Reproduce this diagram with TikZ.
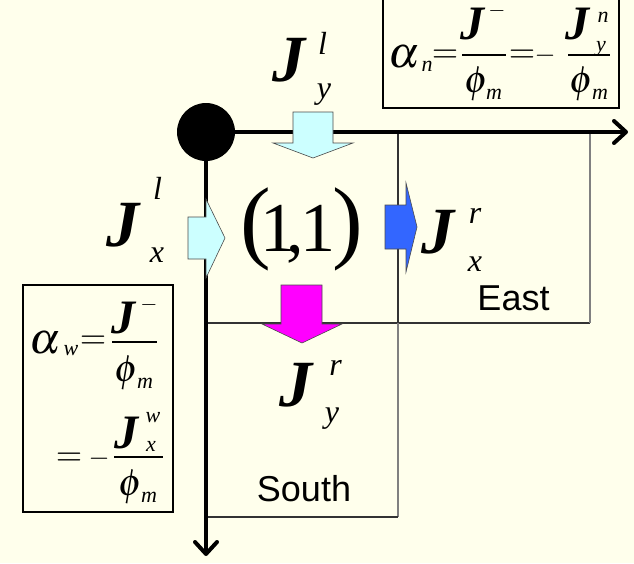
\documentclass[tikz,border=0pt]{standalone}
\usepackage{mathptmx}
\usepackage[no-math]{fontspec}
\setmainfont{Liberation Serif}
\newfontfamily\arialf{Liberation Sans}
\usetikzlibrary{arrows.meta}
\definecolor{bg}{HTML}{FFFFEC}
\definecolor{lcyan}{HTML}{CCFFFF}
\definecolor{fblue}{HTML}{3366FF}
\definecolor{fmag}{HTML}{FF00FF}
\newcommand\fs[1]{\fontsize{#1}{#1}\selectfont}
\tikzset{
  axisline/.style={line width=4pt,-{Straight Barb[length=12pt,width=22pt,line cap=round,line join=round]}},
  gridd/.style={line width=1.3pt,draw=black!80},
  gridg/.style={line width=1.3pt,draw=black!50},
  eqbox/.style={line width=1.3pt,draw=black},
  fracbar/.style={line width=1.2pt,draw=black},
  blockarrow/.style={draw=black!70,line width=0.6pt},
  bigj/.style={inner sep=0pt,font=\fs{66}\bfseries\itshape},
  idx/.style={inner sep=0pt,font=\fs{32}\itshape},
  place/.style={inner sep=0pt,font=\fs{36}\arialf},
  ej/.style={inner sep=0pt,font=\fs{48}\bfseries\itshape},
  egreek/.style={inner sep=0pt,font=\fs{44}},
  ephi/.style={inner sep=0pt,font=\fs{38}},
  erel/.style={inner sep=0pt,font=\fs{34}},
  emin/.style={inner sep=0pt,font=\fs{27}},
  esub/.style={inner sep=0pt,font=\fs{22}\itshape},
}
\begin{document}
\begin{tikzpicture}[x=1pt,y=-1pt]
\fill[bg] (0,0) rectangle (634,563);
\useasboundingbox (0,0) rectangle (634,563);
% cell lines
\draw[gridd] (398,132) -- (398,323);
\draw[gridd] (206,323) -- (590,323);
\draw[gridg] (590,132) -- (590,323);
\draw[gridg] (398,323) -- (398,517);
\draw[gridd] (206,517) -- (398,517);
% axes
\node[circle,fill=black,minimum size=58pt,inner sep=0pt] (o) at (206,132) {};
\coordinate (xe) at (628,132);
\coordinate (ye) at (206,556);
\draw[axisline] (o.east) -- (xe);
\draw[axisline] (o.south) -- (ye);
% block arrows
\draw[blockarrow,fill=lcyan] (293,112) -- (333,112) -- (333,143) -- (353,143) -- (313,158) -- (273,143) -- (293,143) -- cycle;
\draw[blockarrow,fill=lcyan] (188,217) -- (206,217) -- (206,199) -- (225,238) -- (206,278) -- (206,259) -- (188,259) -- cycle;
\draw[blockarrow,fill=fblue] (385,205) -- (406,205) -- (406,183) -- (417,227) -- (406,272) -- (406,249) -- (385,249) -- cycle;
\draw[blockarrow,fill=fmag] (281,285) -- (322,285) -- (322,324) -- (342,324) -- (302,343) -- (262,324) -- (281,324) -- cycle;
% equation boxes
\draw[eqbox] (383,-2) rectangle (619,108);
\draw[eqbox] (23,285) rectangle (173,512);
% alpha_n equation
\node[egreek] (an) at (404,57) {$\alpha$};
\node[esub] (ann) at (427,66) {n};
\node[erel] (aneq1) at (445,56) {$=$};
\draw[fracbar] (462,55) -- (506,55);
\node[ej] (anj1) at (472,24) {J};
\node[esub] (anj1s) at (497,11) {$-$};
\node[ephi] (anphi1) at (476.5,84) {$\phi$};
\node[esub] (anm1) at (494,94) {m};
\node[erel] (aneq2) at (522,56) {$=$};
\node[emin] (anmin) at (545,56) {$-$};
\draw[fracbar] (568,55) -- (610,55);
\node[ej] (anj2) at (577,24) {J};
\node[esub] (anj2s) at (603,17) {n};
\node[esub] (anj2b) at (601,49) {y};
\node[ephi] (anphi2) at (582,84) {$\phi$};
\node[esub] (anm2) at (600,94) {m};
% alpha_w equation
\node[egreek] (aw) at (45,343) {$\alpha$};
\node[esub] (aww) at (71,351) {w};
\node[erel] (aweq1) at (93,342) {$=$};
\draw[fracbar] (112,342) -- (157,342);
\node[ej] (awj1) at (123,318) {J};
\node[esub] (awj1s) at (149,305) {$-$};
\node[ephi] (awphi1) at (127,373) {$\phi$};
\node[esub] (awm1) at (145,383) {m};
\node[erel] (aweq2) at (69,459) {$=$};
\node[emin] (awmin) at (99,459) {$-$};
\draw[fracbar] (114,457) -- (163,457);
\node[ej] (awj2) at (126,433) {J};
\node[esub] (awj2s) at (153,418) {w};
\node[esub] (awj2b) at (151,446) {x};
\node[ephi] (awphi2) at (131,487) {$\phi$};
\node[esub] (awm2) at (149,497) {m};
% labels
\node[bigj] (jyl) at (288.5,60.5) {J};
\node[idx] (jyls) at (322.5,43) {l};
\node[idx] (jylb) at (324,95) {y};
\node[bigj] (jxl) at (123,225.5) {J};
\node[idx] (jxls) at (157.5,188.5) {l};
\node[idx] (jxlb) at (157,255) {x};
\node[bigj] (jxr) at (437.5,232.5) {J};
\node[idx] (jxrs) at (475,215.5) {r};
\node[idx] (jxrb) at (475,264) {x};
\node[bigj] (jyr) at (295.5,385) {J};
\node[idx] (jyrs) at (335.5,367.5) {r};
\node[idx] (jyrb) at (332,418.5) {y};
\node[inner sep=0pt,font=\fs{92}] (lp) at (256,229.5) {(};
\node[inner sep=0pt,font=\fs{70}] (one1) at (278,228.5) {1};
\node[inner sep=0pt,font=\fs{70}] (comma) at (295,254) {,};
\node[inner sep=0pt,font=\fs{70}] (one2) at (318,228.5) {1};
\node[inner sep=0pt,font=\fs{92}] (rp) at (348,229.5) {)};
\node[place] (east) at (513.5,298) {East};
\node[place] (south) at (304,489) {South};
\end{tikzpicture}
\end{document}
